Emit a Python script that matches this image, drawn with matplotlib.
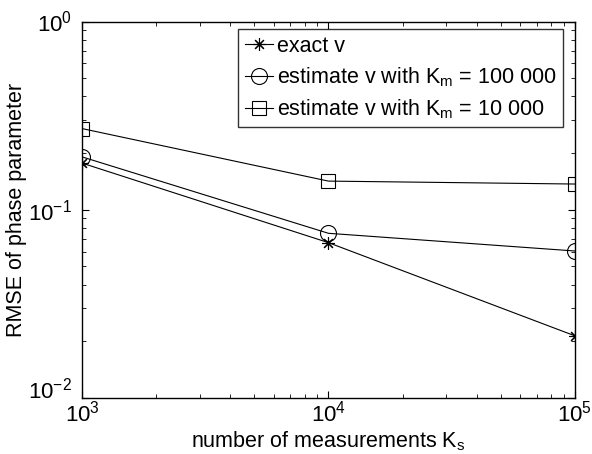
import numpy as np
import matplotlib
matplotlib.use("Agg")
from matplotlib import pyplot as plt

plt.rcParams['font.family'] = ['Liberation Sans', 'DejaVu Sans']
plt.rcParams['mathtext.fontset'] = 'custom'
plt.rcParams['mathtext.rm'] = 'Liberation Sans'
plt.rcParams['mathtext.it'] = 'Liberation Sans:italic'

# number of measurements K_s
k_s = [1e3, 1e4, 1e5]
# RMSE of the phase parameter
rmse_exact = [0.177, 0.0669, 0.0214]
rmse_km_100000 = [0.191, 0.075, 0.0604]
rmse_km_10000 = [0.270, 0.142, 0.137]

labels = ['exact v',
          r'estimate v with K$_\mathrm{m}$ = 100 000',
          r'estimate v with K$_\mathrm{m}$ = 10 000']

fig = plt.figure(figsize=(5.92, 4.54), dpi=100)
ax = fig.add_axes([0.1385, 0.1233, 0.8325, 0.8293])

lw = 0.8
ax.plot(k_s, rmse_exact, color='k', linewidth=lw, marker=(8, 2, 0),
        markersize=9, markeredgewidth=0.8, label=labels[0])
ax.plot(k_s, rmse_km_100000, color='k', linewidth=lw, marker='o',
        markersize=11.5, markerfacecolor='none', markeredgewidth=0.8, label=labels[1])
ax.plot(k_s, rmse_km_10000, color='k', linewidth=lw, marker='s',
        markersize=9.5, markerfacecolor='none', markeredgewidth=0.8, label=labels[2])

ax.set_xscale('log')
ax.set_yscale('log')
ax.set_xlim(1e3, 1e5)
ax.set_ylim(1e-2, 1e0)
ax.set_xticks([1e3, 1e4, 1e5])
ax.set_yticks([1e-2, 1e-1, 1e0])

ax.tick_params(which='both', direction='in', top=True, right=True, labelsize=16)
ax.tick_params(which='major', length=5, width=0.8)
ax.tick_params(which='minor', length=3, width=0.6)
ax.tick_params(axis='x', pad=2)
ax.tick_params(axis='y', pad=7)
for s in ax.spines.values():
    s.set_linewidth(1.0)

# lowest y label sits above its tick, as in the original
ax.yaxis.get_major_ticks()[0].label1.set_verticalalignment('baseline')

ax.set_xlabel(r'number of measurements K$_\mathrm{s}$', fontsize=15.5, labelpad=2)
ax.set_ylabel('RMSE of phase parameter', fontsize=15.5, labelpad=1)

leg = ax.legend(loc='upper right', bbox_to_anchor=(0.951, 0.936),
                bbox_transform=fig.transFigure, fontsize=15.5, frameon=True,
                fancybox=False, edgecolor='k', borderpad=0.3, labelspacing=0.4,
                handlelength=1.3, handletextpad=0.2, borderaxespad=0)
leg.get_frame().set_linewidth(1.0)

plt.savefig('out.png', dpi=100)
plt.close()
